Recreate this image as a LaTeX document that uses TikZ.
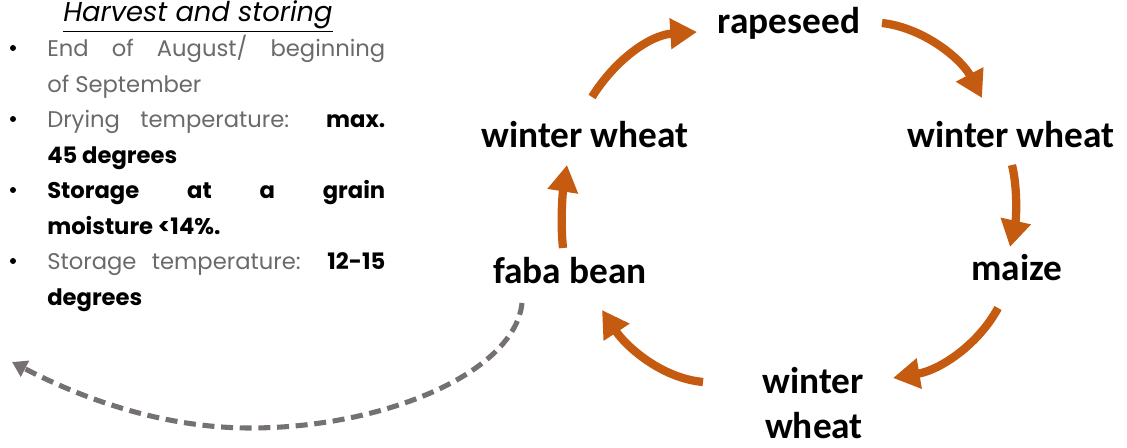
\documentclass[tikz,border=0pt]{standalone}
\usepackage{fontspec}
\setmainfont{Poppins}
\newfontfamily\lblfont{Carlito}
\usetikzlibrary{arrows.meta}
\definecolor{cycorange}{HTML}{C55A11}
\definecolor{dashgrey}{HTML}{767171}
\definecolor{softgrey}{HTML}{6A6A6A}
\tikzset{
  crop/.style={font=\lblfont\bfseries\fontsize{28}{30}\selectfont, inner sep=0pt, anchor=base},
  cyc/.style={draw=cycorange, line width=6.2pt,
    -{Triangle[width=22pt,length=20pt]}},
  backarrow/.style={draw=dashgrey, line width=3.8pt, dash pattern=on 9pt off 5pt,
    -{Triangle[width=13pt,length=11pt]}},
  txtline/.style={inner sep=0pt, anchor=base west, font=\fontsize{17}{20}\selectfont},
  bul/.style={circle, fill=black, inner sep=0pt, minimum size=4.5pt},
}
\newcommand{\jline}[1]{\makebox[253.5pt][s]{#1}}
\newcommand{\lt}[1]{\textcolor{softgrey}{#1}}
\newcommand{\dk}[1]{\textbf{#1}}
\begin{document}
\begin{tikzpicture}[x=0.75pt,y=-0.75pt]
  \useasboundingbox (0,0) rectangle (1127,448);

  % ---- harvest notes ----
  \node[inner sep=0pt, anchor=base, font=\itshape\fontsize{20.5}{22}\selectfont] (title) at (198,22)
    {\underline{Harvest and storing}};

  \node[bul] (b1) at (13,48) {};
  \node[bul] (b2) at (13,119) {};
  \node[bul] (b3) at (13,190) {};
  \node[bul] (b4) at (13,261) {};

  \node[txtline] (l1) at (47,57)    {\jline{\lt{End of August/ beginning}}};
  \node[txtline] (l2) at (47,92.5)  {\lt{of September}};
  \node[txtline] (l3) at (47,128)   {\jline{\lt{Drying temperature:} \dk{max.}}};
  \node[txtline] (l4) at (47,163.5) {\dk{45 degrees}};
  \node[txtline] (l5) at (47,199)   {\jline{\dk{Storage at a grain}}};
  \node[txtline] (l6) at (47,234.5) {\dk{moisture <14\%.}};
  \node[txtline] (l7) at (47,270)   {\jline{\lt{Storage temperature:} \dk{12-15}}};
  \node[txtline] (l8) at (47,305.5) {\dk{degrees}};

  % ---- crop rotation ----
  \node[crop] (rape)  at (789,34)  {rapeseed};
  \node[crop] (wwr)   at (1011,148) {winter wheat};
  \node[crop] (maize) at (1017,281) {maize};
  \node[crop] (wwb)   at (813,394) {winter};
  \node[crop] (wwb2)  at (814,439) {wheat};
  \node[crop] (faba)  at (570,284) {faba bean};
  \node[crop] (wwl)   at (585,148) {winter wheat};

  \draw[cyc] ([shift={(7,-51)}]wwl.base) .. controls (615,60) and (650,35) .. ([shift={(-92,-2)}]rape.base);
  \draw[cyc] ([shift={(93,-11)}]rape.base) .. controls (925,28) and (962,60) .. ([shift={(-29,-50)}]wwr.base);
  \draw[cyc] ([shift={(1,17)}]wwr.base) .. controls (1018,190) and (1016,220) .. ([shift={(-7,-34)}]maize.base);
  \draw[cyc] ([shift={(-19,27)}]maize.base) .. controls (978,345) and (940,370) .. ([shift={(80,-16)}]wwb.base);
  \draw[cyc] ([shift={(-110,-12)}]wwb.base) .. controls (660,378) and (625,345) .. ([shift={(32,26)}]faba.base);
  \draw[cyc] ([shift={(-7,-36)}]faba.base) .. controls (560,220) and (563,190) .. ([shift={(-18,17)}]wwl.base);

  % ---- back to the notes ----
  \coordinate (notes) at (12,362);
  \draw[backarrow] ([shift={(-48,19)}]faba.base) .. controls (515,372) and (385,428) .. (250,428)
    .. controls (165,428) and (85,400) .. (notes);
\end{tikzpicture}
\end{document}
